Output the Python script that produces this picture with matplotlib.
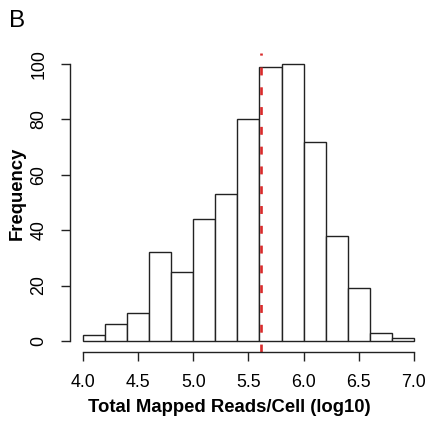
import matplotlib.pyplot as plt
import numpy as np

plt.rcParams["font.family"] = ["Liberation Sans", "DejaVu Sans"]

# histogram of log10 mapped reads per cell, 0.2-wide bins
bin_edges = [4.0, 4.2, 4.4, 4.6, 4.8, 5.0, 5.2, 5.4, 5.6, 5.8, 6.0, 6.2, 6.4, 6.6, 6.8, 7.0]
counts = [2, 6, 10, 32, 25, 44, 53, 80, 99, 100, 72, 38, 19, 3, 1]
median_reads = 5.61

x_ticks = [4.0, 4.5, 5.0, 5.5, 6.0, 6.5, 7.0]
y_ticks = [0, 20, 40, 60, 80, 100]

fig = plt.figure(figsize=(4.28, 4.21), dpi=100)
ax = fig.add_axes([0.163, 0.164, 0.835, 0.71])

ax.bar(bin_edges[:-1], counts, width=np.diff(bin_edges), align="edge",
       facecolor="white", edgecolor="#222222", linewidth=1.0)
ax.axvline(median_reads, color="#d92b2b", linewidth=1.9, dashes=(3, 4.5))

ax.set_xlim(3.88, 7.12)
ax.set_ylim(-4, 104)

# R-style axes: detached spines limited to the tick range
for side in ("top", "right"):
    ax.spines[side].set_visible(False)
ax.spines["left"].set_bounds(0, 100)
ax.spines["bottom"].set_bounds(4.0, 7.0)
for side in ("left", "bottom"):
    ax.spines[side].set_linewidth(1.0)
    ax.spines[side].set_color("#222222")

ax.set_xticks(x_ticks)
ax.set_xticklabels([f"{v:.1f}" for v in x_ticks])
ax.set_yticks(y_ticks)
ax.set_yticklabels([str(v) for v in y_ticks], rotation=90, va="center")
ax.tick_params(axis="both", direction="out", length=6.5, width=1.0,
               color="#222222", labelsize=12.8)
ax.tick_params(axis="x", pad=9.5)
ax.tick_params(axis="y", pad=9.5)

ax.set_xlabel("Total Mapped Reads/Cell (log10)", fontsize=13.3, fontweight="bold")
ax.set_ylabel("Frequency", fontsize=13.3, fontweight="bold")
ax.xaxis.set_label_coords(0.447, -0.158)
ax.yaxis.set_label_coords(-0.124, 0.532)

fig.text(0.022, 0.925, "B", fontsize=17.5, ha="left", va="bottom")

fig.savefig("out.png", dpi=100)
